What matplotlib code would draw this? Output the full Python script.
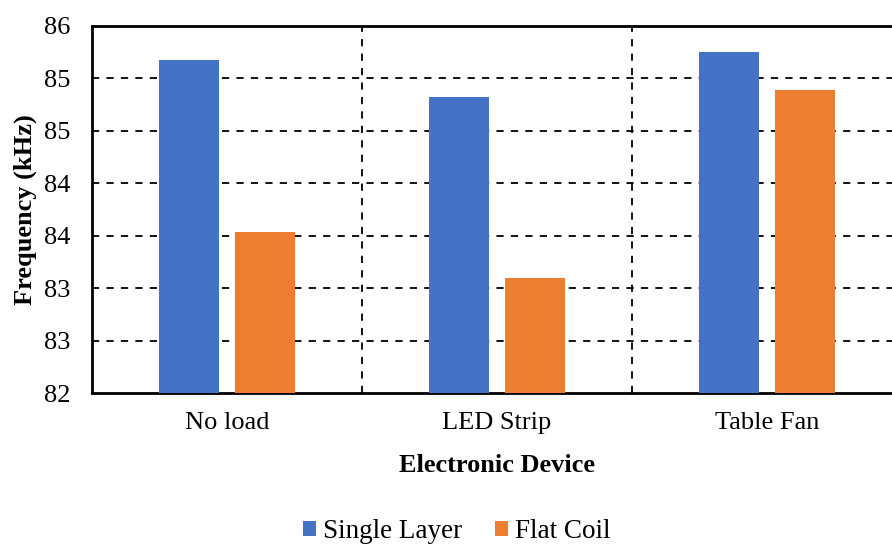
import matplotlib.pyplot as plt
import numpy as np

categories = ["No load", "LED Strip", "Table Fan"]
single_layer = [85.68, 85.32, 85.75]
flat_coil = [84.04, 83.60, 85.39]
ytick_values = [82.5, 83.0, 83.5, 84.0, 84.5, 85.0, 85.5, 86.0]
ytick_labels = ["82", "83", "83", "84", "84", "85", "85", "86"]

plt.rcParams['font.family'] = ['Liberation Serif', 'DejaVu Serif']

fig = plt.figure(figsize=(8.92, 5.46), dpi=100)
ax = fig.add_axes([92/892, 153/546, 810/892, 367/546])

x = np.arange(len(categories))
w = 0.225
off = 0.141
base = ytick_values[0]
ax.bar(x - off, np.array(single_layer) - base, w, bottom=base, color="#4472C4", label="Single Layer", zorder=3)
ax.bar(x + off, np.array(flat_coil) - base, w, bottom=base, color="#ED7D31", label="Flat Coil", zorder=3)

ax.set_xlim(-0.5, 2.5)
ax.set_ylim(ytick_values[0], ytick_values[-1])
ax.set_yticks(ytick_values)
ax.set_yticklabels(ytick_labels)
ax.set_xticks(x)
ax.set_xticklabels(categories)
ax.tick_params(axis='both', length=0, labelsize=19, colors='black')
ax.tick_params(axis='y', pad=15.5)
ax.tick_params(axis='x', pad=14)

for yv in ytick_values[1:-1]:
    ax.axhline(yv, color='black', lw=1.3, ls=(0, (4, 4)), zorder=1)
for xv in [0.5, 1.5]:
    ax.axvline(xv, color='black', lw=1.3, ls=(0, (4, 4)), zorder=1)

for s in ['left', 'bottom', 'top']:
    ax.spines[s].set_linewidth(2)
    ax.spines[s].set_color('black')
ax.spines['right'].set_visible(False)

ax.set_ylabel("Frequency (kHz)", fontsize=19, fontweight='bold', labelpad=5)
ax.set_xlabel("Electronic Device", fontsize=19, fontweight='bold', labelpad=14)

fig.legend(loc='center', bbox_to_anchor=(0.512, 0.026), ncol=2, frameon=False,
           fontsize=19.5, handlelength=0.5, handleheight=0.5, handletextpad=0.25,
           columnspacing=1.2, borderaxespad=0, borderpad=0)

fig.savefig("out.png", dpi=100)
